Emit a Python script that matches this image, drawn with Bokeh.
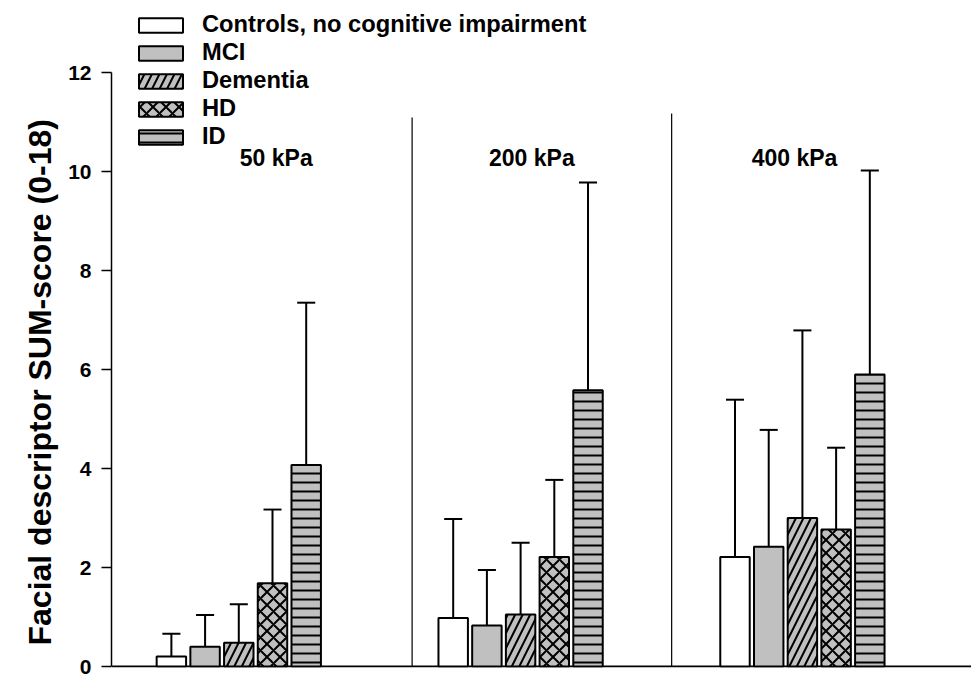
from bokeh.plotting import figure
from bokeh.models import Range1d, FixedTicker, Legend, LegendItem, ColumnDataSource, Title
from bokeh.core.properties import value
from bokeh.embed import file_html
from bokeh.resources import INLINE

# ---------------- data ----------------
groups = ["50 kPa", "200 kPa", "400 kPa"]
series_names = ["Controls, no cognitive impairment", "MCI", "Dementia", "HD", "ID"]

controls_mean = [0.20, 0.98, 2.21]
controls_sd = [0.46, 2.00, 3.18]
mci_mean = [0.40, 0.83, 2.42]
mci_sd = [0.64, 1.12, 2.36]
dementia_mean = [0.48, 1.05, 3.00]
dementia_sd = [0.78, 1.45, 3.79]
hd_mean = [1.68, 2.21, 2.77]
hd_sd = [1.49, 1.56, 1.65]
id_mean = [4.07, 5.58, 5.90]
id_sd = [3.28, 4.20, 4.12]

y_ticks = [0, 2, 4, 6, 8, 10, 12]
y_label = "Facial descriptor SUM-score (0-18)"

means = [controls_mean, mci_mean, dementia_mean, hd_mean, id_mean]
sds = [controls_sd, mci_sd, dementia_sd, hd_sd, id_sd]

# ---------------- styles / layout ----------------
GRAY = "#c0c0c0"
fills = ["white", GRAY, GRAY, GRAY, GRAY]
hatches = [None, None, "/", "x", "-"]
hatch_scales = [10, 10, 15, 13, 9]
FONT = "Liberation Sans"

BAR_STEP = 0.1196
BAR_W = 0.1045
CAP_W = 0.064
X0, X1 = -0.4517, 2.6
Y0, Y1 = -0.0202, 13.455
label_offsets = [0.133, 0.04, -0.028]
label_y = 10.28
sep_pos = [0.615, 1.536]
sep_top = [11.09, 11.17]

p = figure(width=971, height=679, x_range=Range1d(X0, X1), y_range=Range1d(Y0, Y1),
           output_backend="svg", toolbar_location=None, x_axis_location=None,
           min_border_left=111, min_border_right=0, min_border_top=0, min_border_bottom=12)
p.xgrid.visible = False
p.ygrid.visible = False
p.outline_line_color = None
p.background_fill_color = "white"
p.border_fill_color = "white"

# y axis
yax = p.yaxis[0]
yax.ticker = FixedTicker(ticks=y_ticks)
yax.bounds = (0, 12)
yax.axis_line_width = 1.5
yax.axis_line_color = "black"
yax.major_tick_out = 10
yax.major_tick_in = 0
yax.major_tick_line_width = 1.5
yax.minor_tick_line_color = None
yax.major_label_text_font = FONT
yax.major_label_text_font_style = "bold"
yax.major_label_text_font_size = "21px"
yax.major_label_text_color = "black"
yax.major_label_standoff = 10

# y axis title as a vertical title in the left panel, starting near the axis bottom
p.add_layout(Title(text=y_label, align="left", offset=22, standoff=16,
                   text_font=FONT, text_font_style="bold", text_font_size="32px",
                   text_color="black"), "left")

# baseline (x axis line)
p.segment(x0=[X0], y0=[0], x1=[X1], y1=[0], line_color="black", line_width=2)

# separators between pressure groups
p.segment(x0=sep_pos, y0=[0, 0], x1=sep_pos, y1=sep_top, line_color="black", line_width=1.2)

renderers = []
for j, name in enumerate(series_names):
    xs = [g + (j - 2) * BAR_STEP for g in range(len(groups))]
    tops = [m + s for m, s in zip(means[j], sds[j])]
    src = ColumnDataSource(dict(x=xs, top=means[j], etop=tops,
                                cl=[x - CAP_W / 2 for x in xs], cr=[x + CAP_W / 2 for x in xs]))
    p.segment(x0="x", y0="top", x1="x", y1="etop", source=src, line_color="black", line_width=2)
    p.segment(x0="cl", y0="etop", x1="cr", y1="etop", source=src, line_color="black", line_width=2)
    kw = dict(x="x", top="top", bottom=0, width=BAR_W, source=src,
              fill_color=fills[j], line_color="black", line_width=2)
    if hatches[j]:
        kw.update(hatch_pattern=hatches[j], hatch_color="black", hatch_weight=2,
                  hatch_scale=hatch_scales[j])
    r = p.vbar(**kw)
    renderers.append(r)

# group labels
p.text(x=[g + o for g, o in zip(range(len(groups)), label_offsets)], y=[label_y] * 3, text=groups,
       text_font=value(FONT), text_font_style="bold", text_font_size="23px",
       text_align="center", text_baseline="middle", text_color="black")

legend = Legend(items=[LegendItem(label=n, renderers=[r]) for n, r in zip(series_names, renderers)],
                location=(22, 517), orientation="vertical",
                glyph_width=55, glyph_height=18, label_standoff=14, spacing=1,
                padding=0, margin=0, label_height=20,
                label_text_font=FONT, label_text_font_style="bold", label_text_font_size="23.7px",
                label_text_color="black", border_line_color=None, background_fill_alpha=0)
p.add_layout(legend, "center")

open("out.html", "w").write(file_html(p, INLINE))
